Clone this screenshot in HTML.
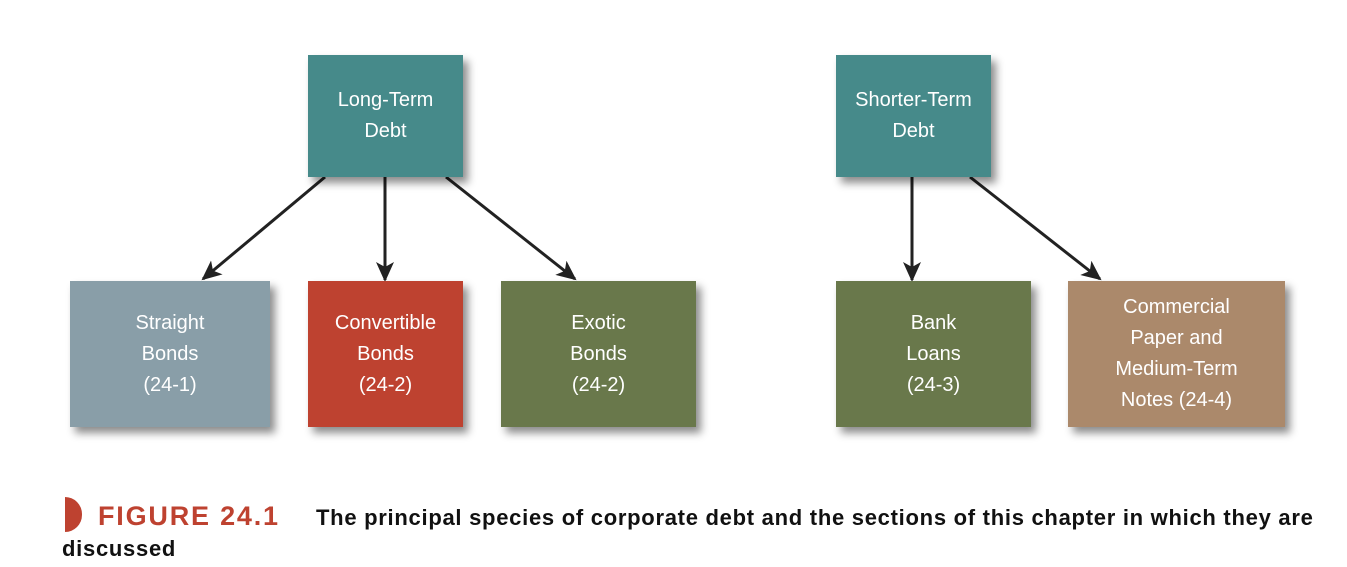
<!DOCTYPE html>
<html><head><style>
body{margin:0;width:1347px;height:567px;background:#fff;position:relative;font-family:"Liberation Sans",sans-serif;overflow:hidden}
.b{position:absolute;color:#fff;display:flex;align-items:center;justify-content:center;text-align:center;font-size:20px;line-height:31px;box-shadow:5px 6px 8px rgba(0,0,0,.45)}
.t{background:#468a8a}
</style></head><body>
<svg width="1347" height="567" style="position:absolute;left:0;top:0">
<defs><marker id="a" markerWidth="20" markerHeight="20" refX="18" refY="9" orient="auto" markerUnits="userSpaceOnUse" viewBox="0 0 20 18"><path d="M0,0 L20,9 L0,18 L5,9z" fill="#222"/></marker></defs>
<g stroke="#222" stroke-width="3" fill="none" marker-end="url(#a)">
<line x1="325" y1="177" x2="203" y2="279"/>
<line x1="385" y1="177" x2="385" y2="280"/>
<line x1="446" y1="177" x2="575" y2="279"/>
<line x1="912" y1="177" x2="912" y2="280"/>
<line x1="970" y1="177" x2="1100" y2="279"/>
</g></svg>
<div class="b t" style="left:308px;top:55px;width:155px;height:122px">Long-Term<br>Debt</div>
<div class="b t" style="left:836px;top:55px;width:155px;height:122px">Shorter-Term<br>Debt</div>
<div class="b" style="left:70px;top:281px;width:200px;height:146px;background:#899ea8">Straight<br>Bonds<br>(24-1)</div>
<div class="b" style="left:308px;top:281px;width:155px;height:146px;background:#be4230">Convertible<br>Bonds<br>(24-2)</div>
<div class="b" style="left:501px;top:281px;width:195px;height:146px;background:#69784b">Exotic<br>Bonds<br>(24-2)</div>
<div class="b" style="left:836px;top:281px;width:195px;height:146px;background:#69784b">Bank<br>Loans<br>(24-3)</div>
<div class="b" style="left:1068px;top:281px;width:217px;height:146px;background:#ab896b">Commercial<br>Paper and<br>Medium-Term<br>Notes (24-4)</div>
<div style="position:absolute;left:65px;top:497px;width:17px;height:35px;background:#be4230;border-radius:0 18px 18px 0"></div>
<div style="position:absolute;left:98px;top:500px;font-size:27px;font-weight:bold;color:#be4230;line-height:32px;letter-spacing:1.8px">FIGURE 24.1</div>
<div style="position:absolute;left:316px;top:505px;font-size:22px;font-weight:bold;color:#111;line-height:26px;white-space:nowrap;letter-spacing:0.72px">The principal species of corporate debt and the sections of this chapter in which they are</div>
<div style="position:absolute;left:62px;top:536px;font-size:22px;font-weight:bold;color:#111;line-height:26px;letter-spacing:0.72px">discussed</div>
</body></html>
